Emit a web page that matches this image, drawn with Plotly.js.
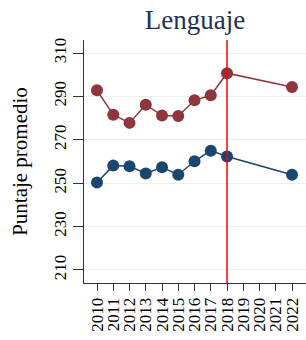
<!DOCTYPE html>
<html><head><meta charset="utf-8">
<script src="https://cdn.plot.ly/plotly-3.0.1.min.js"></script>
<style>html,body{margin:0;padding:0;background:#fff}#c{width:306px;height:340px}</style>
</head><body><div id="c"></div>
<script>
const years = [2010, 2011, 2012, 2013, 2014, 2015, 2016, 2017, 2018, 2022];
const serieRoja = [292.8, 281.6, 277.8, 286.2, 281.2, 281.0, 288.2, 290.5, 300.7, 294.3];
const serieAzul = [250.3, 258.1, 257.8, 254.5, 257.3, 253.9, 260.1, 265.0, 262.3, 253.9];
const xTicks = [2010, 2011, 2012, 2013, 2014, 2015, 2016, 2017, 2018, 2019, 2020, 2021, 2022];
const yTicks = [210, 230, 250, 270, 290, 310];
const lineaAnio = 2018;

const font = '"Liberation Serif", "Times New Roman", serif';
const traces = [
  {x: years, y: serieRoja, mode: 'lines+markers', line: {color: '#90353b', width: 1.5}, marker: {color: '#90353b', size: 12}},
  {x: years, y: serieAzul, mode: 'lines+markers', line: {color: '#1a476f', width: 1.5}, marker: {color: '#1a476f', size: 12}}
];
const layout = {
  width: 306, height: 340,
  margin: {l: 84, r: 0, t: 40, b: 57},
  paper_bgcolor: '#fff', plot_bgcolor: '#fff',
  showlegend: false,
  font: {family: font, color: '#000'},
  title: {text: 'Lenguaje', font: {family: font, size: 27, color: '#1e3259'}, x: 0.5, xref: 'paper', y: 1 - 20/340, yref: 'container', yanchor: 'middle'},
  xaxis: {range: [2009.2, 2022.86], tickvals: xTicks, ticktext: xTicks.map(String), tickangle: -90,
    ticks: 'outside', ticklen: 7, tickcolor: '#333', showline: true, linecolor: '#333', linewidth: 1,
    showgrid: false, zeroline: false, tickfont: {family: font, size: 17, color: '#000'}, automargin: false},
  yaxis: {range: [204, 316], tickvals: yTicks, ticktext: yTicks.map(String), tickangle: -90,
    ticks: 'outside', ticklen: 10, tickcolor: '#333', showline: true, linecolor: '#333', linewidth: 1,
    showgrid: true, gridcolor: '#e8f0f2', gridwidth: 1, zeroline: false,
    tickfont: {family: font, size: 17, color: '#000'}, automargin: false,
    title: {text: 'Puntaje promedio', standoff: 17, font: {family: font, size: 21, color: '#000'}}},
  shapes: [{type: 'line', xref: 'x', yref: 'paper', x0: lineaAnio, x1: lineaAnio, y0: 0, y1: 1, line: {color: '#ff0000', width: 1.5}}]
};
Plotly.newPlot('c', traces, layout, {displayModeBar: false, staticPlot: true});
</script></body></html>
